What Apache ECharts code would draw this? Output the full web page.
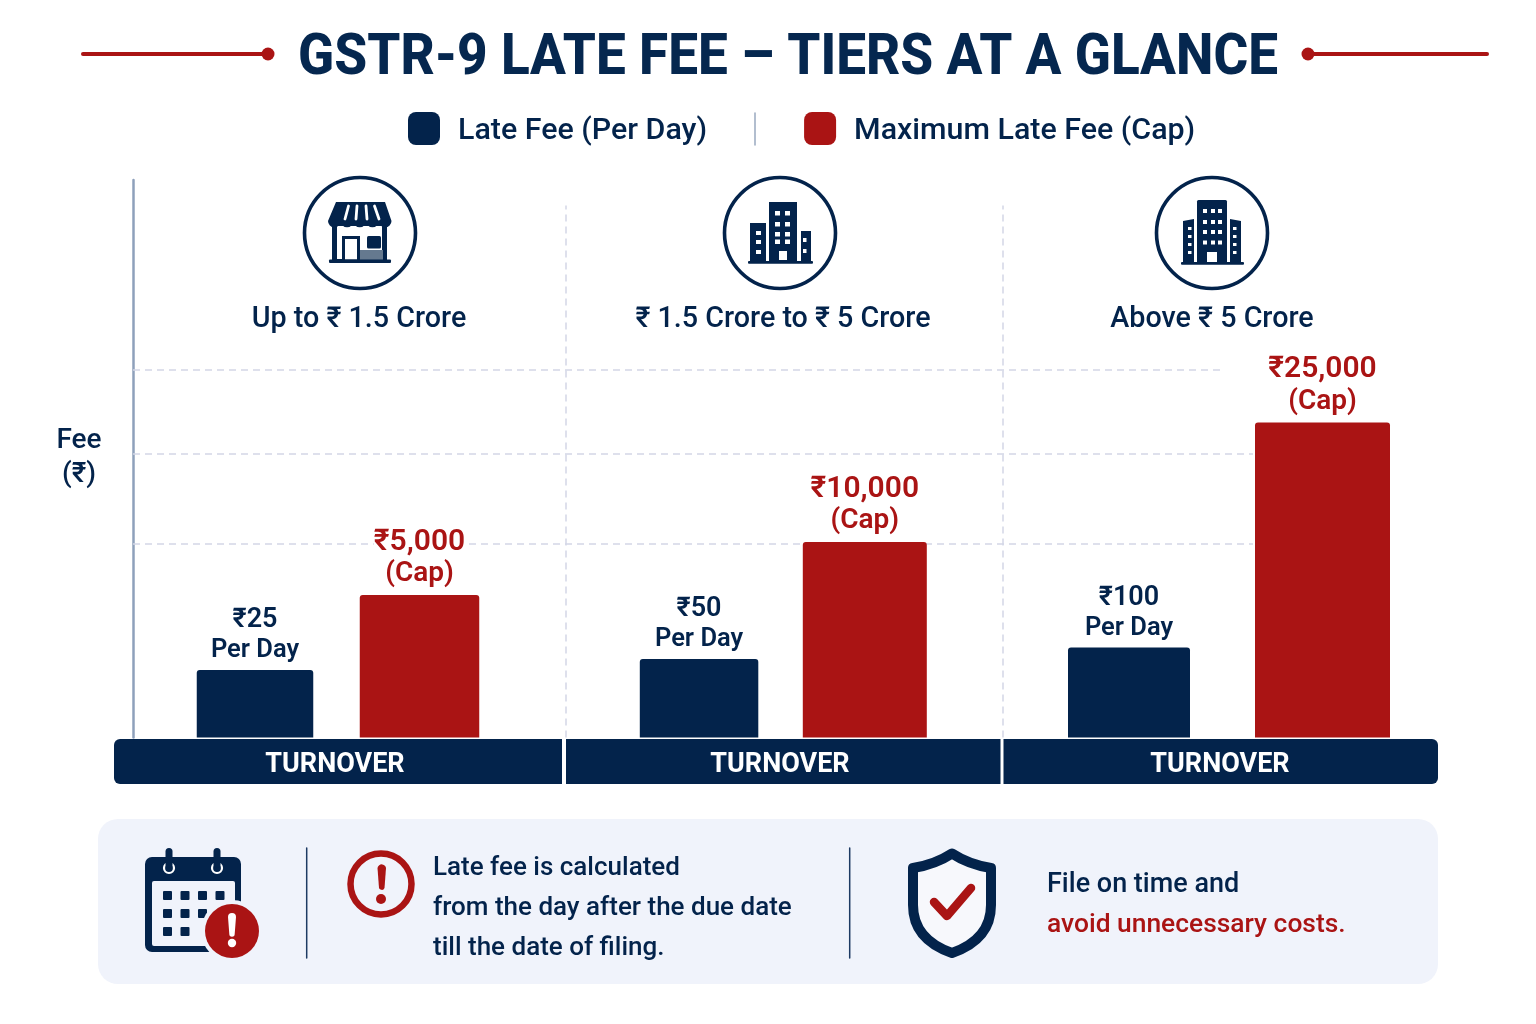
<!DOCTYPE html>
<html>
<head>
<meta charset="utf-8">
<style>html,body{margin:0;padding:0;background:#fff}#c{width:1536px;height:1024px}</style>
<script src="https://cdn.jsdelivr.net/npm/echarts@6/dist/echarts.min.js"></script>
</head>
<body>
<div id="c"></div>
<script>
// ---- data ----
var titleText = 'GSTR-9 LATE FEE – TIERS AT A GLANCE';
var seriesNames = ['Late Fee (Per Day)', 'Maximum Late Fee (Cap)'];
var tierLabels = ['Up to ₹ 1.5 Crore', '₹ 1.5 Crore to ₹ 5 Crore', 'Above ₹ 5 Crore'];
var feePerDay = [25, 50, 100];
var feeCap = [5000, 10000, 25000];
// The picture's bars are not to scale with the fees and it prints no tick values,
// so bar heights are read as levels on its unlabelled fee axis.
var perDayLevels = [67.5, 78.5, 90];
var capLevels = [142.5, 195.5, 315];
var gridLevels = [367.5, 283.5, 193.5];
var axisTitle = ['Fee', '(₹)'];
var bandLabel = 'TURNOVER';
var noteLines = ['Late fee is calculated', 'from the day after the due date', 'till the date of filing.'];
var closingLines = ['File on time and', 'avoid unnecessary costs.'];

// ---- styling and layout ----
var NAVY = '#03234b', RED = '#aa1414', PANEL = '#f0f3fb', FONT = 'Roboto';
var AXIS_MAX = 557.5, GRID_TOP = 180, GRID_H = 557.5;
var groupLayout = [
  {left: 175, width: 326, w1: 116.5, w2: 119.5},
  {left: 620.3, width: 326, w1: 118.5, w2: 124},
  {left: 1042, width: 374, w1: 122, w2: 135}
];
var gridEnds = [1088, 1120, 1120];
var dividers = [433, 870];

function txt(s, x, y, size, color, weight, align) {
  return {type: 'text', z: 20, style: {text: s, x: x, y: y + size * 0.1, fill: color,
    font: (weight || 500) + ' ' + size + 'px ' + FONT,
    textAlign: align || 'center', textVerticalAlign: 'middle'}};
}
function rect(x, y, w, h, fill, r, z) {
  return {type: 'rect', shape: {x: x, y: y, width: w, height: h, r: r || 0}, style: {fill: fill}, z: z || 10};
}
function circ(cx, cy, r, fill, stroke, lw, z) {
  return {type: 'circle', shape: {cx: cx, cy: cy, r: r},
    style: {fill: fill || 'none', stroke: stroke || null, lineWidth: lw || 0}, z: z || 10};
}
var pathCount = 0;
function path(d, fill, stroke, lw, z) {
  var name = 'iconPath' + (pathCount++);
  echarts.graphic.registerShape(name, echarts.graphic.extendPath(d, {}));
  return {type: name,
    style: {fill: fill || 'none', stroke: stroke || null, lineWidth: lw || 0, lineCap: 'round', lineJoin: 'round'}, z: z || 10};
}
function line(x1, y1, x2, y2, color, lw, z) {
  return {type: 'line', shape: {x1: x1, y1: y1, x2: x2, y2: y2},
    style: {stroke: color, lineWidth: lw, lineCap: 'round'}, z: z || 10};
}
var g = [];
// title
g.push(line(83, 54, 268, 54, RED, 4), circ(268, 54, 6.5, RED));
g.push(line(1308, 54, 1487, 54, RED, 4), circ(1308, 54, 6.5, RED));
g.push({type: 'text', x: 788, y: 54 + 5, scaleX: 0.915, z: 20,
  style: {text: titleText, x: 0, y: 0, fill: '#05274f', font: '800 58px ' + FONT, textAlign: 'center', textVerticalAlign: 'middle'}});
// legend separator
g.push(line(755, 113, 755, 145, '#98a8bf', 1.5));
// axis title
g.push(txt(axisTitle[0], 79, 438, 28, NAVY, 500), txt(axisTitle[1], 79, 472, 28, NAVY, 500));
// tier labels
[359, 783, 1212].forEach(function (x, i) { g.push(txt(tierLabels[i], x, 317, 28.7, NAVY, 500)); });
// tier circles
[[360, 233], [780, 233], [1212, 233]].forEach(function (c) { g.push(circ(c[0], c[1], 55.5, '#fff', NAVY, 3.6)); });
// store
g.push(
  rect(332, 220, 55, 40, NAVY),
  rect(337, 226, 45, 33, '#fff', 0, 11),
  rect(342, 236, 18, 25, NAVY, 0, 12),
  rect(345, 239, 12, 20.5, '#fff', 0, 13),
  rect(367, 236, 14, 12.5, NAVY, 1.5, 12),
  rect(360, 250, 23, 10, '#65798f', 0, 12),
  rect(329, 259.5, 62, 3.5, NAVY, 1, 14),
  path('M336 202 H385 L391.5 221 A6.35 6.35 0 0 1 378.8 221 A6.35 6.35 0 0 1 366.1 221 A6.35 6.35 0 0 1 353.4 221 A6.35 6.35 0 0 1 340.7 221 A6.35 6.35 0 0 1 328 221 Z', NAVY, null, 0, 15),
  line(348.5, 206, 345, 219, '#fff', 2.8, 16), line(357, 206, 356, 219, '#fff', 2.8, 16),
  line(366, 206, 367, 219, '#fff', 2.8, 16), line(374.5, 206, 379, 219, '#fff', 2.8, 16)
);
function windows(xs, ys, w, h) {
  xs.forEach(function (x) { ys.forEach(function (y) { g.push(rect(x, y, w, h, '#fff', 0, 12)); }); });
}
// mid buildings
g.push(rect(769, 202, 28, 61, NAVY), rect(750, 223, 16, 40, NAVY), rect(801, 231, 10, 32, NAVY), rect(748, 261, 65, 2.8, NAVY, 1));
windows([775, 785], [211, 222, 232, 239.5], 5, 4.5);
windows([756], [231, 240, 250], 5, 4);
windows([803], [238, 249], 3.5, 4);
g.push(rect(779, 251, 8, 9, '#fff', 0, 12));
// large buildings
g.push(rect(1197, 200, 30, 63, NAVY, 1.5),
  path('M1183 221 L1194 219 V263 H1183 Z', NAVY), path('M1230 219 L1241 221 V263 H1230 Z', NAVY),
  rect(1181, 262, 63, 2.8, NAVY, 1));
windows([1203, 1211, 1218], [209, 220, 230, 240.5], 4, 4);
windows([1188, 1233], [227, 235, 243, 251], 3.5, 3);
g.push(rect(1207, 252, 10, 10, '#fff', 0, 12));
// turnover band
g.push(
  path('M120 739 H562 V784 H120 A6 6 0 0 1 114 778 V745 A6 6 0 0 1 120 739 Z', NAVY),
  rect(566, 739, 434.5, 45, NAVY),
  path('M1003.5 739 H1432 A6 6 0 0 1 1438 745 V778 A6 6 0 0 1 1432 784 H1003.5 Z', NAVY)
);
[335, 780, 1220].forEach(function (x) { g.push(txt(bandLabel, x, 763, 27, '#fff', 700)); });
// bottom panel
g.push(rect(98, 819, 1340, 165, PANEL, 20, 5));
g.push(line(306.7, 848, 306.7, 958, '#1d3a63', 1.5), line(849.7, 848, 849.7, 958, '#1d3a63', 1.5));
// calendar icon
g.push(rect(145, 857, 96, 95, NAVY, 7), rect(152, 881, 83, 65, PANEL, 2, 11));
g.push(circ(169, 868, 5, 'none', '#fff', 2.2, 11), circ(217, 868, 5, 'none', '#fff', 2.2, 11));
g.push(rect(165.5, 848, 7, 20, NAVY, 3.5, 12), rect(213.5, 848, 7, 20, NAVY, 3.5, 12));
[[0, 1, 2, 3], [0, 1, 2], [0, 1]].forEach(function (row, j) {
  row.forEach(function (i) { g.push(rect(163 + i * 17.5, 891 + j * 18, 9, 9, NAVY, 1, 12)); });
});
g.push(circ(232, 931, 31, PANEL, null, 0, 13), circ(232, 931, 27, RED, null, 0, 14));
g.push(path('M228 917 A4 4 0 0 1 236 917 L234.7 934 A2.7 2.7 0 0 1 229.3 934 Z', '#fff', null, 0, 15), circ(232, 943, 4.2, '#fff', null, 0, 15));
// warning icon
g.push(circ(381, 884, 30.5, 'none', RED, 6.5));
g.push(path('M377.5 868 A4.3 4.3 0 0 1 386 868 L384.5 888 A3 3 0 0 1 379 888 Z', RED), circ(381, 899, 5, RED));
noteLines.forEach(function (s, i) { g.push(txt(s, 433, 866 + i * 40, 26, NAVY, 500, 'left')); });
// shield
g.push(path('M952 853.5 C965 862 978 866 991 868 V905 C991 930 975 945 952 953 C929 945 913 930 913 905 V868 C926 866 939 862 952 853.5 Z', '#f7f8fc', NAVY, 10));
g.push(path('M934 902 L947 916 L971 888', 'none', RED, 8.5, 11));
g.push(txt(closingLines[0], 1047, 883, 27, NAVY, 500, 'left'), txt(closingLines[1], 1047, 923, 26.4, RED, 500, 'left'));

// ---- chart ----
var grids = [{left: 133, top: GRID_TOP, width: 1120, height: GRID_H}];
var xAxes = [{type: 'value', gridIndex: 0, min: 0, max: 1120, show: false}];
var yAxes = [{type: 'value', gridIndex: 0, min: 0, max: AXIS_MAX, splitLine: {show: false},
  axisTick: {show: false}, axisLabel: {show: false},
  axisLine: {show: true, lineStyle: {color: '#8ea0bb', width: 2.5}}}];
var guideStyle = {color: '#d3d6e6', width: 1.5, type: [7, 5]};
var marks = gridLevels.map(function (v, i) {
  return [{coord: [0, v]}, {coord: [gridEnds[i], v]}];
}).concat(dividers.map(function (x) {
  return [{coord: [x, 0]}, {coord: [x, 532]}];
}));
var series = [{type: 'line', name: 'guides', xAxisIndex: 0, yAxisIndex: 0, data: [], silent: true, z: 1,
  markLine: {silent: true, symbol: 'none', label: {show: false}, lineStyle: guideStyle, data: marks, animation: false}}];

function bars(gi, name, color, width, values, fmt, slot, sizes) {
  return {
    type: 'bar', name: name, xAxisIndex: gi, yAxisIndex: gi, barWidth: width, barGap: '-100%',
    data: slot === 0 ? [values, null] : [null, values],
    itemStyle: {color: color, borderRadius: [3, 3, 0, 0]}, z: 5,
    label: {show: true, position: 'top', formatter: fmt, color: color, fontFamily: FONT,
      fontWeight: 600, align: 'center', backgroundColor: '#fff', distance: sizes.distance,
      rich: {
        v: {fontFamily: FONT, fontWeight: 600, color: color, fontSize: sizes.value, lineHeight: sizes.lineHeight},
        t: {fontFamily: FONT, fontWeight: 600, color: color, fontSize: sizes.text, lineHeight: sizes.lineHeight}
      }}
  };
}
groupLayout.forEach(function (lay, i) {
  var gi = i + 1;
  grids.push({left: lay.left, top: GRID_TOP, width: lay.width, height: GRID_H});
  xAxes.push({type: 'category', gridIndex: gi, data: ['Per Day', 'Cap'], show: false});
  yAxes.push({type: 'value', gridIndex: gi, min: 0, max: AXIS_MAX, show: false});
  series.push(bars(gi, seriesNames[0], NAVY, lay.w1, perDayLevels[i],
    '{v|₹' + feePerDay[i].toLocaleString('en-IN') + '}\n{t|Per Day}', 0,
    {value: 27, text: 25.5, lineHeight: 30.5, distance: 4}));
  series.push(bars(gi, seriesNames[1], RED, lay.w2, capLevels[i],
    '{v|₹' + feeCap[i].toLocaleString('en-IN') + '}\n{t|(Cap)}', 1,
    {value: 30, text: 28, lineHeight: 32, distance: 5}));
});

var chart = echarts.init(document.getElementById('c'), null, {renderer: 'canvas'});
chart.setOption({
  animation: false,
  backgroundColor: '#fff',
  legend: {
    data: seriesNames, left: 408, top: 112, padding: 0, itemWidth: 32, itemHeight: 33, itemGap: 97, icon: 'roundRect',
    selectedMode: false,
    formatter: '{a|{name}}',
    textStyle: {color: NAVY, fontFamily: FONT, fontWeight: 500, fontSize: 30.4,
      rich: {a: {color: NAVY, fontFamily: FONT, fontWeight: 500, fontSize: 30.4, padding: [6, 0, 0, 13]}}}
  },
  grid: grids, xAxis: xAxes, yAxis: yAxes, series: series, graphic: {elements: g}
});
</script>
</body>
</html>
